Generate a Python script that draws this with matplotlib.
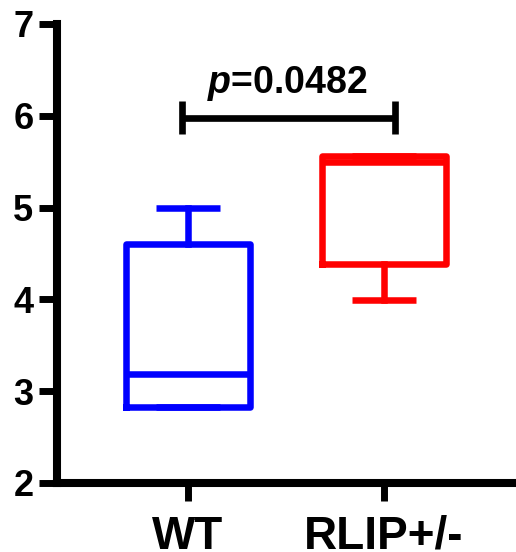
import matplotlib
matplotlib.use("Agg")
import matplotlib.pyplot as plt

# values
groups = ["WT", "RLIP+/-"]
box_colors = ["#0000ff", "#ff0000"]
whislo = [2.83, 3.99]
q1 = [2.83, 4.39]
median = [3.19, 5.50]
q3 = [4.60, 5.56]
whishi = [5.00, 5.56]
yticks = [2, 3, 4, 5, 6, 7]

p_text = r"$p$=0.0482"
sig_y = 5.98
sig_x = (0.97, 2.055)

plt.rcParams["font.family"] = ["Liberation Sans", "DejaVu Sans"]
plt.rcParams["font.weight"] = "bold"
plt.rcParams["mathtext.fontset"] = "custom"
plt.rcParams["mathtext.it"] = "Liberation Sans:bold:italic"
plt.rcParams["mathtext.rm"] = "Liberation Sans:bold"

fig = plt.figure(figsize=(5.16, 5.52), dpi=100)
ax = fig.add_axes([57 / 516, 69 / 552, 459 / 516, 459 / 552])

positions = list(range(1, len(groups) + 1))
stats = []
for i, g in enumerate(groups):
    stats.append(dict(label=g, whislo=whislo[i], q1=q1[i], med=median[i],
                      q3=q3[i], whishi=whishi[i], fliers=[]))

lw = 4.7
for i, s in enumerate(stats):
    c = box_colors[i]
    ax.bxp([s], positions=[positions[i]], widths=0.63, capwidths=0.33,
           showfliers=False,
           boxprops=dict(color=c, linewidth=lw),
           medianprops=dict(color=c, linewidth=lw, solid_capstyle="butt"),
           whiskerprops=dict(color=c, linewidth=lw),
           capprops=dict(color=c, linewidth=lw, solid_capstyle="butt"))

# significance bar
ax.plot(sig_x, [sig_y, sig_y], color="black", lw=4.8, solid_capstyle="butt")
for x in sig_x:
    ax.plot([x, x], [sig_y - 0.18, sig_y + 0.18], color="black", lw=4.8,
            solid_capstyle="butt")
ax.text(sum(positions) / 2 + 0.007, 6.25, p_text, ha="center", va="baseline",
        fontsize=27, fontweight="bold")

ax.set_xlim(0.332, 2.673)
ax.set_ylim(2, 7)
ax.set_yticks(yticks)
ax.set_xticks(positions)
ax.set_xticklabels(groups)

for side in ["top", "right"]:
    ax.spines[side].set_visible(False)
for side in ["left", "bottom"]:
    ax.spines[side].set_linewidth(5.8)
    ax.spines[side].set_capstyle("projecting")

ax.tick_params(axis="y", length=13, width=5, pad=4, labelsize=26)
ax.tick_params(axis="x", length=13, width=5, pad=10, labelsize=33)
for lab in ax.get_xticklabels() + ax.get_yticklabels():
    lab.set_fontweight("bold")

fig.savefig("out.png", dpi=100)
